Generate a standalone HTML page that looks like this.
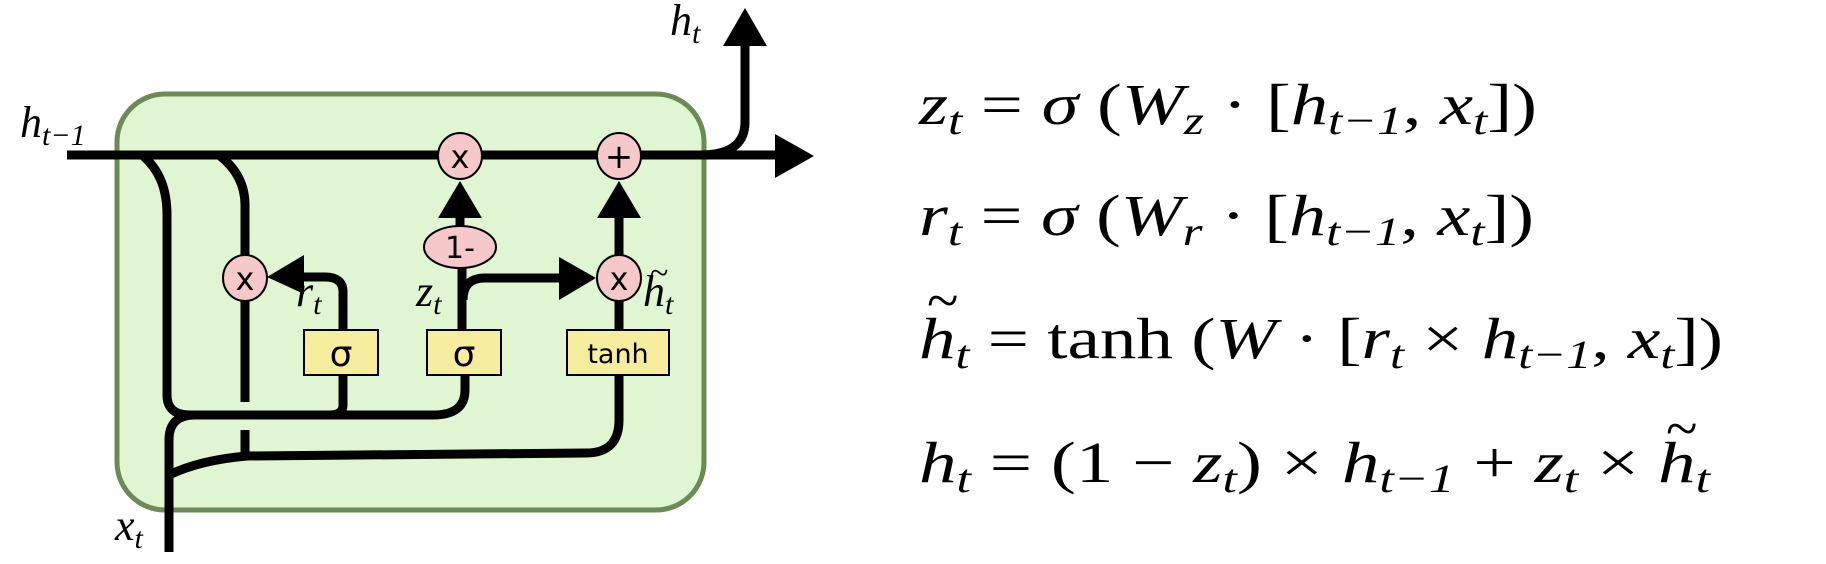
<!DOCTYPE html>
<html><head><meta charset="utf-8"><style>
html,body{margin:0;padding:0;background:#fff;}
svg{display:block;}
.lb{font-family:"Liberation Serif",serif;font-style:italic;fill:#000;}
.eq{font-family:"Liberation Serif",serif;font-style:italic;font-size:58px;fill:#000;}
.up{font-style:normal;}
.sub{font-size:40px;}
.gl{font-family:"DejaVu Sans","Liberation Sans",sans-serif;fill:#000;}
</style></head><body>
<svg width="1826" height="564" viewBox="0 0 1826 564">
<rect x="117" y="94" width="587" height="416" rx="48" fill="#e0f6d3" stroke="#6b8a55" stroke-width="5"/>
<g fill="none" stroke="#000" stroke-width="9">
<path d="M67,155 L780,155"/>
<path d="M700,155 Q745,155 745,122 L745,42"/>
<path d="M142,155 C160,170 167,190 167,215 L167,395 Q167,415 190,415 L433,415 Q465,415 465,390 L465,372"/>
<path d="M343,375 L343,405 Q343,415 330,415"/>
<path d="M169,552 L169,440 Q169,415 195,415"/>
<path d="M169,475 Q200,460 247,456 L586,453 Q619,453 619,420 L619,372"/>
<path d="M219,155 Q245,175 245,205 L245,402"/>
<path d="M245,430 L245,456"/>
<path d="M462,332 L462,266"/>
<path d="M463,300 Q463,278 485,278 L565,278"/>
<path d="M460,228 L460,212"/>
<path d="M619,332 L619,298"/>
<path d="M619,257 L619,212"/>
<path d="M343,332 L343,292 Q343,277 325,277 L300,277"/>
</g>
<g fill="#000">
<polygon points="775,134 814,156 775,178"/>
<polygon points="723,46 745,8 767,46"/>
<polygon points="438,218 460,181 482,218"/>
<polygon points="597,218 619,181 641,218"/>
<polygon points="559,257 596,278 559,300"/>
<polygon points="304,255 267,277 304,294"/>
</g>
<g stroke="#000" stroke-width="2" fill="#f6c8c9">
<ellipse cx="460" cy="156" rx="22" ry="23"/>
<ellipse cx="619" cy="156" rx="22" ry="23"/>
<ellipse cx="245" cy="278" rx="22" ry="23"/>
<ellipse cx="619" cy="278" rx="22" ry="23"/>
<ellipse cx="460" cy="247" rx="36" ry="21"/>
</g>
<g stroke="#000" stroke-width="2" fill="#f5ed9d">
<rect x="304" y="330" width="74" height="45"/>
<rect x="427" y="330" width="74" height="45"/>
<rect x="567" y="330" width="102" height="45"/>
</g>
<g class="gl" text-anchor="middle">
<text x="460" y="168" font-size="32">x</text>
<text x="619" y="168" font-size="34">+</text>
<text x="245" y="290" font-size="32">x</text>
<text x="619" y="290" font-size="32">x</text>
<text x="460" y="258" font-size="30">1-</text>
<text x="341" y="366" font-size="36">σ</text>
<text x="464" y="366" font-size="36">σ</text>
<text x="618" y="363" font-size="27">tanh</text>
</g>
<g class="lb">
<text x="20" y="137" font-size="44">h<tspan font-size="30" dy="8">t−1</tspan></text>
<text x="670" y="35" font-size="44">h<tspan font-size="30" dy="8">t</tspan></text>
<text x="115" y="540" font-size="44">x<tspan font-size="30" dy="8">t</tspan></text>
<text x="296" y="306" font-size="44">r<tspan font-size="30" dy="8">t</tspan></text>
<text x="416" y="306" font-size="44">z<tspan font-size="30" dy="8">t</tspan></text>
<text x="643" y="306" font-size="44">h<tspan font-size="30" dy="8">t</tspan></text>
<text x="650" y="284" font-size="34" class="up">~</text>
</g>
<g>
<text class="eq" x="919" y="124" textLength="618" lengthAdjust="spacingAndGlyphs">z<tspan class="sub" dy="10">t</tspan><tspan dy="-10" class="up"> = </tspan>σ<tspan class="up"> (</tspan>W<tspan class="sub" dy="10">z</tspan><tspan dy="-10" class="up"> · [</tspan>h<tspan class="sub" dy="10">t−1</tspan><tspan dy="-10" class="up">, </tspan>x<tspan class="sub" dy="10">t</tspan><tspan dy="-10" class="up">])</tspan></text>
<text class="eq" x="919" y="235" textLength="615" lengthAdjust="spacingAndGlyphs">r<tspan class="sub" dy="10">t</tspan><tspan dy="-10" class="up"> = </tspan>σ<tspan class="up"> (</tspan>W<tspan class="sub" dy="10">r</tspan><tspan dy="-10" class="up"> · [</tspan>h<tspan class="sub" dy="10">t−1</tspan><tspan dy="-10" class="up">, </tspan>x<tspan class="sub" dy="10">t</tspan><tspan dy="-10" class="up">])</tspan></text>
<text class="eq" x="919" y="358" textLength="804" lengthAdjust="spacingAndGlyphs">h<tspan class="sub" dy="10">t</tspan><tspan dy="-10" class="up"> = tanh (</tspan>W<tspan class="up"> · [</tspan>r<tspan class="sub" dy="10">t</tspan><tspan dy="-10" class="up"> × </tspan>h<tspan class="sub" dy="10">t−1</tspan><tspan dy="-10" class="up">, </tspan>x<tspan class="sub" dy="10">t</tspan><tspan dy="-10" class="up">])</tspan></text>
<text class="eq up" x="927" y="320" font-size="44">~</text>
<text class="eq" x="919" y="482" textLength="791" lengthAdjust="spacingAndGlyphs">h<tspan class="sub" dy="10">t</tspan><tspan dy="-10" class="up"> = (1 − </tspan>z<tspan class="sub" dy="10">t</tspan><tspan dy="-10" class="up">) × </tspan>h<tspan class="sub" dy="10">t−1</tspan><tspan dy="-10" class="up"> + </tspan>z<tspan class="sub" dy="10">t</tspan><tspan dy="-10" class="up"> × </tspan>h<tspan class="sub" dy="10">t</tspan></text>
<text class="eq up" x="1666" y="448" font-size="44">~</text>
</g>
</svg>
</body></html>
